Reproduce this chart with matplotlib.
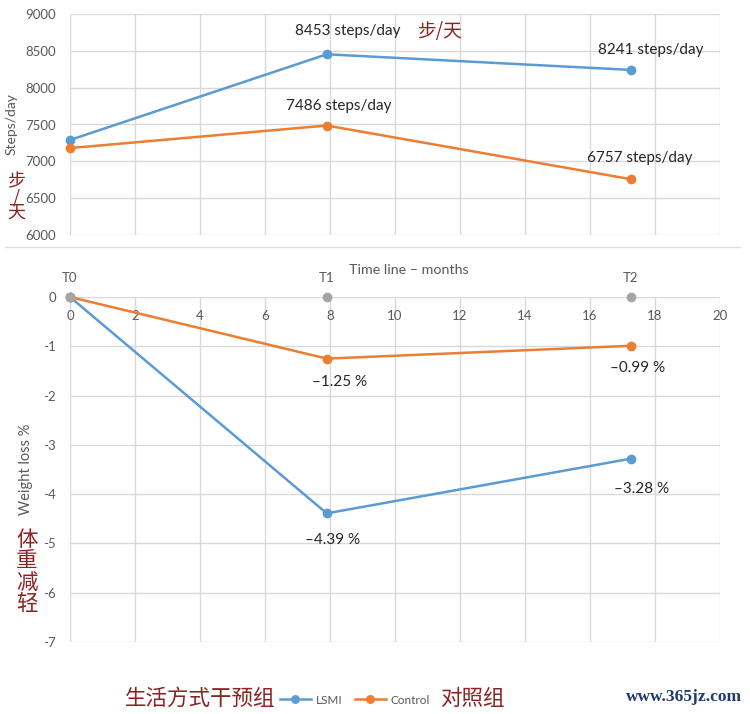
import matplotlib
matplotlib.use("Agg")
import matplotlib.pyplot as plt
from matplotlib.lines import Line2D

# ======= ДАННЫЕ =======
months = [0, 7.9, 17.26]
timepoint_labels = ['T0', 'T1', 'T2']
steps_lsmi = [7290, 8453, 8241]
steps_control = [7180, 7486, 6757]
loss_lsmi = [0, -4.39, -3.28]
loss_control = [0, -1.25, -0.99]
series_names = ['LSMI', 'Control']

BLUE = '#5B9BD5'
ORANGE = '#ED7D31'
GREY = '#A5A5A5'
TICK = '#595959'
GRID = '#D9D9D9'
RED = '#8B2323'
TXT = '#262626'

plt.rcParams['font.family'] = ['Lato', 'DejaVu Sans']
plt.rcParams['axes.unicode_minus'] = False
CJK = ['Noto Sans CJK SC', 'DejaVu Sans']

fig = plt.figure(figsize=(7.5, 7.14), dpi=100)

# ======= ВЕРХНИЙ ГРАФИК: шаги =======
ax1 = fig.add_axes([70/750, 1 - 235/714, 650/750, 221/714])
ax1.plot(months, steps_lsmi, color=BLUE, lw=1.8, marker='o', ms=6, clip_on=False, zorder=3)
ax1.plot(months, steps_control, color=ORANGE, lw=1.8, marker='o', ms=6, clip_on=False, zorder=3)
ax1.set_xlim(0, 20)
ax1.set_ylim(6000, 9000)
ax1.set_xticks(range(0, 21, 2))
ax1.set_yticks(range(6000, 9001, 500))
ax1.tick_params(axis='x', labelbottom=False, length=0)
ax1.tick_params(axis='y', length=0, labelsize=9.5, labelcolor=TICK, pad=10)
ax1.grid(True, color=GRID, lw=1)
for s in ax1.spines.values():
    s.set_visible(False)
ax1.set_ylabel('Steps/day', fontsize=10, color=TICK)
ax1.yaxis.set_label_coords(-0.08, 0.5)

top_offsets = {
    'lsmi': [(15, 17), (14, 14)],
    'control': [(9, 14), (6, 15)],
}
for i, (dx, dy) in zip([1, 2], top_offsets['lsmi']):
    ax1.annotate(f'{steps_lsmi[i]} steps/day', (months[i], steps_lsmi[i]),
                 xytext=(dx, dy), textcoords='offset points', ha='center', va='center',
                 fontsize=11, color=TXT)
for i, (dx, dy) in zip([1, 2], top_offsets['control']):
    ax1.annotate(f'{steps_control[i]} steps/day', (months[i], steps_control[i]),
                 xytext=(dx, dy), textcoords='offset points', ha='center', va='center',
                 fontsize=11, color=TXT)

# разделитель между графиками
fig.add_artist(Line2D([5/750, 740/750], [1 - 247/714, 1 - 247/714], color='#E0E0E0', lw=1))

# ======= НИЖНИЙ ГРАФИК: потеря веса =======
ax2 = fig.add_axes([70/750, 1 - 642/714, 650/750, 345/714])
ax2.plot(months, loss_lsmi, color=BLUE, lw=1.8, marker='o', ms=6, clip_on=False, zorder=3,
         label=series_names[0])
ax2.plot(months, loss_control, color=ORANGE, lw=1.8, marker='o', ms=6, clip_on=False, zorder=3,
         label=series_names[1])
ax2.plot(months, [0] * len(months), ls='none', marker='o', ms=6, color=GREY, clip_on=False, zorder=4)
ax2.set_xlim(0, 20)
ax2.set_ylim(-7, 0)
ax2.set_xticks(range(0, 21, 2))
ax2.set_yticks(range(-7, 1))
ax2.tick_params(axis='x', labeltop=True, labelbottom=False, top=False, bottom=False,
                length=0, pad=-18, labelsize=9.5, labelcolor=TICK)
ax2.tick_params(axis='y', length=0, labelsize=9.5, labelcolor=TICK, pad=10)
ax2.grid(True, color=GRID, lw=1)
for s in ax2.spines.values():
    s.set_visible(False)
ax2.set_ylabel('Weight loss %', fontsize=10.5, color=TICK)
ax2.yaxis.set_label_coords(-0.057, 0.5)
ax2.text(0.5215, 1.078, 'Time line \u2013 months', transform=ax2.transAxes,
         ha='center', va='center', fontsize=10.3, color=TICK)

for x, lab in zip(months, timepoint_labels):
    ax2.annotate(lab, (x, 0), xytext=(0, 13.5), textcoords='offset points',
                 ha='center', va='center', fontsize=9.5, color=TICK)

bottom_offsets = {
    'lsmi': [(4, -19), (8, -22)],
    'control': [(9, -17), (5, -16)],
}
for i, (dx, dy) in zip([1, 2], bottom_offsets['lsmi']):
    ax2.annotate(f'\u2013{abs(loss_lsmi[i]):.2f} %', (months[i], loss_lsmi[i]),
                 xytext=(dx, dy), textcoords='offset points', ha='center', va='center',
                 fontsize=11, color=TXT)
for i, (dx, dy) in zip([1, 2], bottom_offsets['control']):
    ax2.annotate(f'\u2013{abs(loss_control[i]):.2f} %', (months[i], loss_control[i]),
                 xytext=(dx, dy), textcoords='offset points', ha='center', va='center',
                 fontsize=11, color=TXT)

# легенда
fig.legend(loc='center', bbox_to_anchor=(355/750, 1 - 700/714), ncol=2, frameon=False,
           fontsize=8.5, labelcolor=TICK, handlelength=2.6, columnspacing=1.1, handletextpad=0.4,
           markerscale=0.9)

# ======= КИТАЙСКИЕ ПОДПИСИ =======
fig.text(439/750, 1 - 32/714, '步/天', family=CJK, fontsize=13.5, color=RED, ha='center', va='center')
fig.text(16/750, 1 - 197/714, '步\n/\n天', family=CJK, fontsize=13, color=RED,
         ha='center', va='center', linespacing=0.85)
fig.text(27/750, 1 - 572/714, '体\n重\n减\n轻', family=CJK, fontsize=15.5, color=RED,
         ha='center', va='center', linespacing=0.95)
fig.text(275/750, 1 - 699/714, '生活方式干预组', family=CJK, fontsize=15.5, color=RED,
         ha='right', va='center')
fig.text(440/750, 1 - 699/714, '对照组', family=CJK, fontsize=15.5, color=RED,
         ha='left', va='center')
fig.text(742/750, 1 - 697/714, 'www.365jz.com', family=['Liberation Serif', 'DejaVu Serif'],
         fontsize=12.5, weight='bold', color='#1F3A6E', ha='right', va='center')

fig.savefig('out.png', dpi=100)
